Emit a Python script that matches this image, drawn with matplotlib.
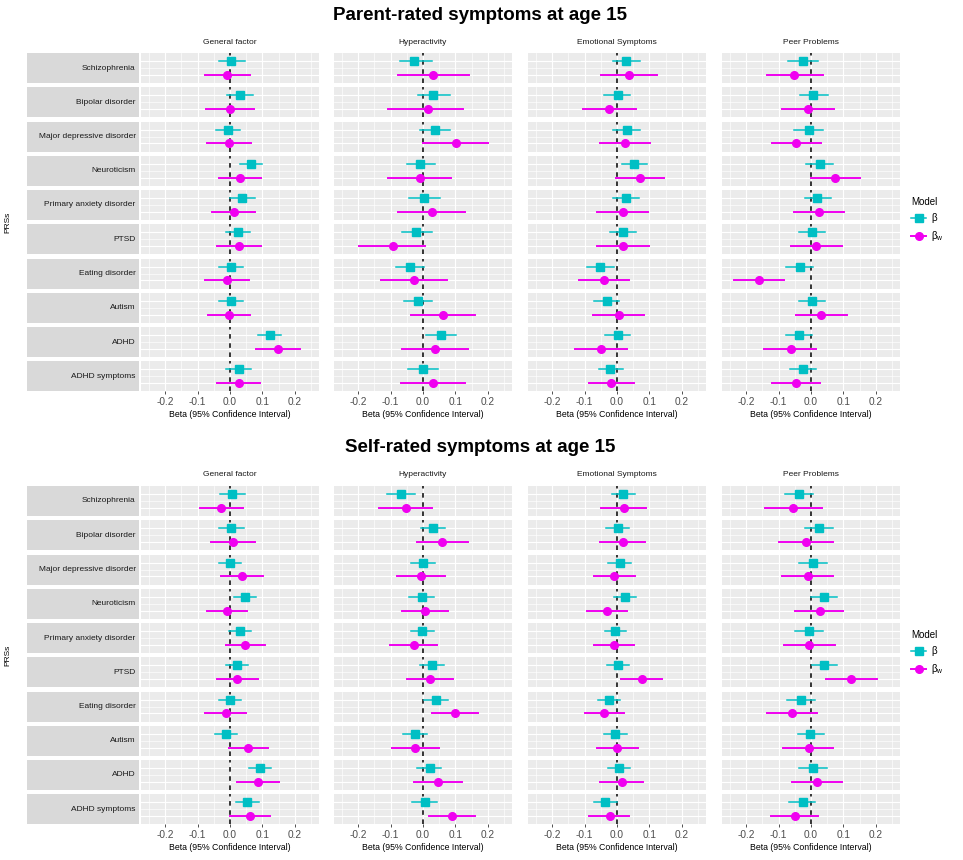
import numpy as np
import matplotlib.pyplot as plt
from matplotlib.lines import Line2D

# === Kategorier ===
prs = ["Schizophrenia", "Bipolar disorder", "Major depressive disorder", "Neuroticism",
       "Primary anxiety disorder", "PTSD", "Eating disorder", "Autism", "ADHD", "ADHD symptoms"]
outcomes = ["General factor", "Hyperactivity", "Emotional Symptoms", "Peer Problems"]
xticks = [-0.2, -0.1, 0.0, 0.1, 0.2]

# === Parent-rated: beta og CI, [outcome][prs] ===
parent_b = [[0.002, 0.03, -0.006, 0.064, 0.038, 0.025, 0.002, 0.002, 0.123, 0.027],
            [-0.028, 0.031, 0.036, -0.009, 0.003, -0.021, -0.04, -0.014, 0.056, 0.0],
            [0.028, 0.002, 0.031, 0.053, 0.028, 0.019, -0.051, -0.032, 0.002, -0.021],
            [-0.024, 0.006, -0.007, 0.027, 0.02, 0.003, -0.033, 0.003, -0.036, -0.026]]
parent_b_lo = [[-0.035, -0.008, -0.042, 0.03, 0.0, -0.011, -0.035, -0.035, 0.087, -0.011],
               [-0.072, -0.015, -0.01, -0.05, -0.043, -0.066, -0.082, -0.058, 0.01, -0.045],
               [-0.013, -0.039, -0.011, 0.015, -0.011, -0.021, -0.092, -0.072, -0.037, -0.057],
               [-0.07, -0.033, -0.051, -0.014, -0.019, -0.038, -0.076, -0.038, -0.076, -0.066]]
parent_b_hi = [[0.045, 0.071, 0.032, 0.1, 0.076, 0.062, 0.04, 0.04, 0.159, 0.064],
               [0.027, 0.082, 0.082, 0.036, 0.051, 0.027, 0.003, 0.029, 0.103, 0.046],
               [0.071, 0.041, 0.072, 0.092, 0.069, 0.058, -0.008, 0.007, 0.041, 0.019],
               [0.023, 0.052, 0.036, 0.069, 0.062, 0.042, 0.006, 0.044, 0.003, 0.015]]
parent_w = [[-0.01, 0.0, -0.003, 0.03, 0.011, 0.027, -0.009, -0.003, 0.148, 0.028],
            [0.031, 0.015, 0.103, -0.009, 0.027, -0.094, -0.028, 0.062, 0.036, 0.031],
            [0.038, -0.024, 0.025, 0.071, 0.019, 0.019, -0.039, 0.005, -0.049, -0.018],
            [-0.051, -0.01, -0.046, 0.074, 0.025, 0.015, -0.162, 0.032, -0.063, -0.046]]
parent_w_lo = [[-0.078, -0.073, -0.07, -0.035, -0.056, -0.039, -0.076, -0.068, 0.079, -0.039],
               [-0.077, -0.108, 0.001, -0.108, -0.077, -0.199, -0.13, -0.036, -0.066, -0.067],
               [-0.049, -0.106, -0.054, -0.003, -0.062, -0.062, -0.118, -0.073, -0.131, -0.088],
               [-0.136, -0.089, -0.121, 0.0, -0.051, -0.063, -0.237, -0.045, -0.145, -0.121]]
parent_w_hi = [[0.061, 0.073, 0.066, 0.097, 0.078, 0.095, 0.06, 0.062, 0.216, 0.094],
               [0.142, 0.124, 0.201, 0.088, 0.131, 0.006, 0.075, 0.16, 0.138, 0.129],
               [0.123, 0.058, 0.102, 0.146, 0.097, 0.099, 0.038, 0.082, 0.031, 0.053],
               [0.036, 0.071, 0.031, 0.151, 0.102, 0.095, -0.084, 0.11, 0.016, 0.029]]

# === Self-rated ===
self_b = [[0.006, 0.002, 0.0, 0.045, 0.032, 0.022, 0.001, -0.013, 0.092, 0.054],
          [-0.069, 0.031, 0.0, -0.004, -0.002, 0.029, 0.041, -0.025, 0.021, 0.005],
          [0.02, 0.002, 0.009, 0.026, -0.006, 0.004, -0.026, -0.005, 0.007, -0.036],
          [-0.038, 0.026, 0.006, 0.039, -0.007, 0.041, -0.031, -0.002, 0.005, -0.026]]
self_b_lo = [[-0.032, -0.035, -0.035, 0.011, -0.003, -0.011, -0.034, -0.047, 0.058, 0.018],
             [-0.11, -0.007, -0.038, -0.043, -0.038, -0.009, 0.003, -0.062, -0.017, -0.033],
             [-0.016, -0.034, -0.027, -0.008, -0.037, -0.031, -0.059, -0.039, -0.027, -0.07],
             [-0.081, -0.019, -0.038, 0.001, -0.048, 0.003, -0.073, -0.04, -0.036, -0.068]]
self_b_hi = [[0.045, 0.042, 0.035, 0.081, 0.066, 0.056, 0.035, 0.023, 0.126, 0.09],
             [-0.025, 0.067, 0.037, 0.034, 0.034, 0.065, 0.078, 0.011, 0.057, 0.044],
             [0.056, 0.036, 0.043, 0.06, 0.028, 0.038, 0.009, 0.03, 0.041, -0.001],
             [0.006, 0.069, 0.049, 0.08, 0.036, 0.08, 0.011, 0.039, 0.049, 0.013]]
self_w = [[-0.029, 0.009, 0.037, -0.009, 0.047, 0.023, -0.013, 0.056, 0.087, 0.061],
          [-0.053, 0.059, -0.007, 0.006, -0.028, 0.022, 0.098, -0.025, 0.046, 0.09],
          [0.023, 0.017, -0.01, -0.032, -0.01, 0.076, -0.039, 0.0, 0.014, -0.021],
          [-0.055, -0.015, -0.01, 0.027, -0.005, 0.123, -0.058, -0.007, 0.018, -0.05]]
self_w_lo = [[-0.094, -0.058, -0.027, -0.07, -0.013, -0.04, -0.076, -0.003, 0.023, -0.001],
             [-0.137, -0.019, -0.079, -0.066, -0.102, -0.048, 0.027, -0.096, -0.028, 0.018],
             [-0.049, -0.052, -0.072, -0.093, -0.072, 0.012, -0.1, -0.063, -0.052, -0.085],
             [-0.142, -0.099, -0.091, -0.048, -0.084, 0.047, -0.135, -0.086, -0.058, -0.124]]
self_w_hi = [[0.04, 0.076, 0.102, 0.054, 0.109, 0.087, 0.048, 0.118, 0.152, 0.123],
             [0.029, 0.139, 0.067, 0.077, 0.044, 0.093, 0.17, 0.049, 0.121, 0.162],
             [0.091, 0.086, 0.056, 0.03, 0.053, 0.14, 0.023, 0.064, 0.081, 0.038],
             [0.034, 0.069, 0.067, 0.1, 0.074, 0.205, 0.02, 0.069, 0.097, 0.023]]

# === Stil ===
plt.rcParams['font.family'] = ['Liberation Sans', 'DejaVu Sans']
W, H = 963, 860
C_B = '#00BFC4'
C_W = '#F000F0'
PANEL = '#EBEBEB'
STRIP = '#D9D9D9'

fig = plt.figure(figsize=(W / 100, H / 100), dpi=100)


def box(x, y, w, h):
    # pixel-koordinater (fra top-venstre) -> figurbrøk
    return [x / W, 1 - (y + h) / H, w / W, h / H]


col_x = [141, 334, 528, 722]
col_w = 178
pitch = 34.25
row_h = 30


def draw_block(title, top, data):
    b, b_lo, b_hi, w, w_lo, w_hi = data
    fig.text(480 / W, 1 - top / H, title, ha='center', va='center',
             fontsize=13.5, fontweight='bold')
    first_row = top + 38
    for c, name in enumerate(outcomes):
        fig.text((col_x[c] + col_w / 2) / W, 1 - (top + 27) / H, name,
                 ha='center', va='center', fontsize=6, color='#1A1A1A')
    for r, lab in enumerate(prs):
        y0 = first_row + r * pitch
        sax = fig.add_axes(box(27, y0, 112, row_h))
        sax.set_facecolor(STRIP)
        sax.set_xticks([])
        sax.set_yticks([])
        for s in sax.spines.values():
            s.set_visible(False)
        sax.text(0.97, 0.5, lab, transform=sax.transAxes, ha='right', va='center',
                 fontsize=6, color='#1A1A1A')
        for c in range(4):
            ax = fig.add_axes(box(col_x[c], y0, col_w, row_h))
            ax.set_facecolor(PANEL)
            ax.set_xlim(-0.275, 0.275)
            ax.set_ylim(0.4, 2.6)
            for s in ax.spines.values():
                s.set_visible(False)
            for xv in np.arange(-0.25, 0.26, 0.05):
                major = abs(round(xv * 20) % 2) == 0
                ax.axvline(xv, color='white', lw=0.8 if major else 0.45, zorder=0)
            for yv, lw in [(1, 0.8), (1.5, 0.45), (2, 0.8)]:
                ax.axhline(yv, color='white', lw=lw, zorder=0)
            ax.axvline(0, color='black', lw=1.1, ls=(0, (3, 3)), zorder=1)
            ax.plot([b_lo[c][r], b_hi[c][r]], [2, 2], color=C_B, lw=1.1, zorder=2)
            ax.plot(b[c][r], 2, marker='s', ms=5.5, color=C_B, zorder=3)
            ax.plot([w_lo[c][r], w_hi[c][r]], [1, 1], color=C_W, lw=1.4, zorder=2)
            ax.plot(w[c][r], 1, marker='o', ms=5.5, color=C_W, zorder=3)
            ax.set_yticks([])
            if r == len(prs) - 1:
                ax.set_xticks(xticks)
                ax.set_xticklabels(['-0.2', '-0.1', '0.0', '0.1', '0.2'])
                ax.tick_params(axis='x', length=2.5, width=0.6, color='#333333',
                               labelsize=7.3, labelcolor='#4D4D4D', pad=1.5)
                ax.set_xlabel('Beta (95% Confidence Interval)', fontsize=6.3, labelpad=2)
            else:
                ax.set_xticks([])
    mid = first_row + (9 * pitch + row_h) / 2
    fig.text(8 / W, 1 - mid / H, 'PRSs', rotation=90, ha='center', va='center', fontsize=6)
    handles = [Line2D([0], [0], color=C_B, lw=1.1, marker='s', ms=5.5),
               Line2D([0], [0], color=C_W, lw=1.4, marker='o', ms=5.5)]
    fig.legend(handles, ['β', r'$\mathregular{\beta_w}$'], title='Model',
               loc='center left', bbox_to_anchor=(902 / W, 1 - (mid - 2) / H),
               frameon=False, fontsize=7, title_fontsize=7, handlelength=1.6,
               handletextpad=0.5, labelspacing=0.6, alignment='left')


draw_block('Parent-rated symptoms at age 15', 15,
           (parent_b, parent_b_lo, parent_b_hi, parent_w, parent_w_lo, parent_w_hi))
draw_block('Self-rated symptoms at age 15', 448,
           (self_b, self_b_lo, self_b_hi, self_w, self_w_lo, self_w_hi))

fig.savefig('out.png', dpi=100, facecolor='white')
